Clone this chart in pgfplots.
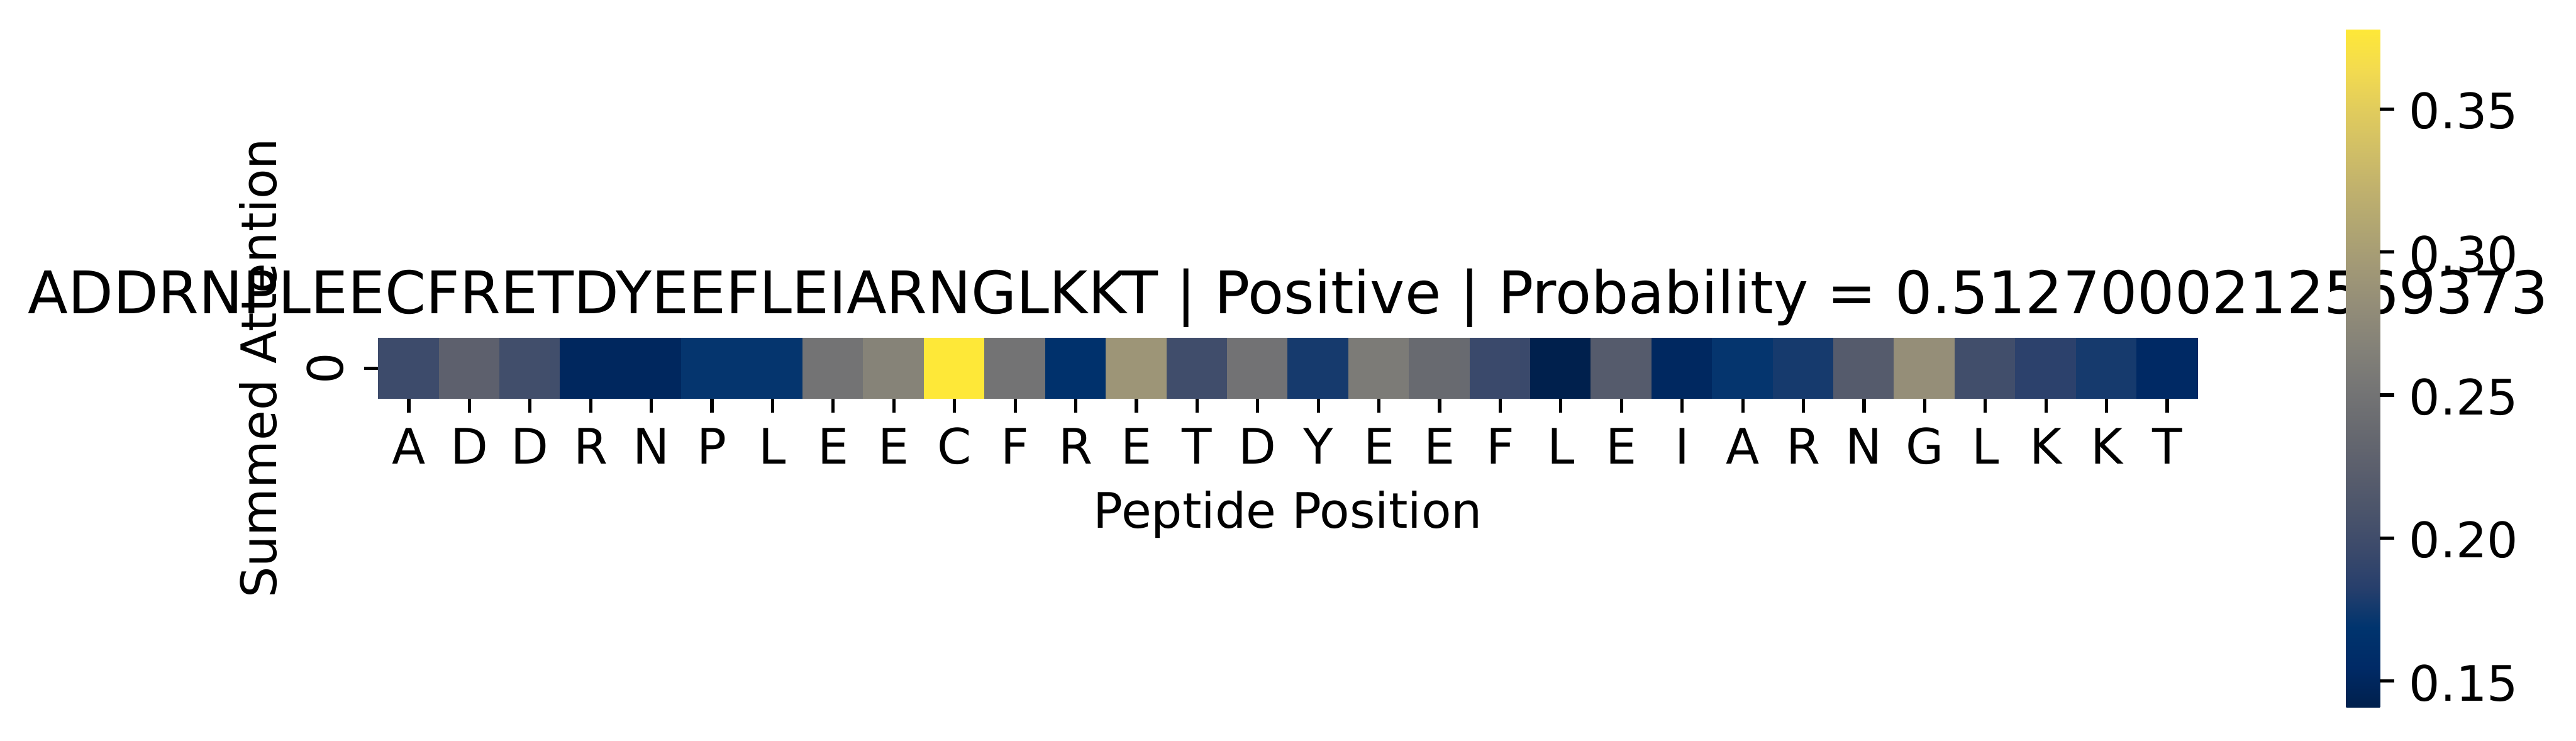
\documentclass[border=0pt]{standalone}
\usepackage{fontspec}
\setmainfont{DejaVu Sans}
\usepackage{pgfplots}
\usepackage{pgfplotstable}
\pgfplotsset{compat=1.18}
\pgfplotsset{
  colormap={cividis}{
    rgb255=(0,32,77) rgb255=(0,42,102) rgb255=(0,52,110) rgb255=(39,63,108)
    rgb255=(60,74,107) rgb255=(76,85,107) rgb255=(91,95,109) rgb255=(104,106,112)
    rgb255=(117,117,117) rgb255=(131,129,120) rgb255=(146,140,120) rgb255=(161,152,118)
    rgb255=(176,165,114) rgb255=(192,177,109) rgb255=(209,191,102) rgb255=(225,204,92)
    rgb255=(243,219,79) rgb255=(254,232,56)
  }
}
\pgfplotstableread{
x v
0 0.1977
1 0.2262
2 0.2013
3 0.1503
4 0.1503
5 0.1704
6 0.1704
7 0.2499
8 0.2688
9 0.3779
10 0.2499
11 0.1645
12 0.2902
13 0.2001
14 0.2487
15 0.1764
16 0.2594
17 0.2380
18 0.1953
19 0.1408
20 0.2190
21 0.1515
22 0.1704
23 0.1764
24 0.2190
25 0.2831
26 0.2013
27 0.1858
28 0.1764
29 0.1538
}\attn
\begin{document}
\begin{tikzpicture}
\path[use as bounding box] (-92.88pt,-83.88pt) rectangle (539.28pt,97.8pt);
\node[anchor=base, inner sep=0pt, font=\fontsize{14.4}{17.28}\selectfont] at (223.2pt,20.88pt)
  {ADDRNPLEECFRETDYEEFLEIARNGLKKT | Positive | Probability = 0.5127000212569373};
\begin{axis}[
  scale only axis, width=446.4pt, height=14.88pt,
  xmin=-0.5, xmax=29.5, ymin=-0.5, ymax=0.5,
  axis x line*=bottom, axis y line*=left, axis line style={draw=none},
  tick align=outside, major tick length=3.5pt,
  tick style={black, line width=0.8pt},
  xtick={0,...,29},
  xticklabels={A,D,D,R,N,P,L,E,E,C,F,R,E,T,D,Y,E,E,F,L,E,I,A,R,N,G,L,K,K,T},
  ytick={0}, yticklabels={0},
  every tick label/.append style={font=\fontsize{12}{14.4}\selectfont},
  xticklabel style={anchor=base, inner sep=0pt, yshift=-12.58pt},
  yticklabel style={anchor=base, inner sep=0pt, xshift=-5.14pt, rotate=90},
  xlabel={Peptide Position},
  ylabel={Summed Attention},
  label style={font=\fontsize{12}{14.4}\selectfont, inner sep=0pt},
  xlabel style={at={(axis description cs:0.5,0)}, anchor=base, yshift=-31.8pt},
  ylabel style={at={(axis description cs:-0.05618,0.5)}, anchor=base, rotate=0},
  colormap name=cividis,
  point meta min=0.1408, point meta max=0.3779,
  colorbar,
  colorbar style={
    at={(parent axis.south west)}, anchor=south west,
    xshift=474.36pt, yshift=-75.72pt,
    scale only axis, width=8.28pt, height=166.32pt,
    axis x line=none, axis y line*=right, axis line style={draw=none},
    ytick={0.15,0.2,0.25,0.3,0.35},
    yticklabels={0.15,0.20,0.25,0.30,0.35},
    tick align=outside, major tick length=3.5pt,
    tick style={black, line width=0.8pt},
    yticklabel style={anchor=west, inner sep=0pt, xshift=3.5pt, yshift=-0.5pt, font=\fontsize{12}{14.4}\selectfont},
  },
]
\addplot[scatter, only marks, mark=square*, mark size=7.44pt, line width=0.2pt,
  point meta=explicit,
  scatter/use mapped color={draw=mapped color, fill=mapped color}]
  table[x=x, y expr=0, meta=v] {\attn};
\end{axis}
\end{tikzpicture}
\end{document}
